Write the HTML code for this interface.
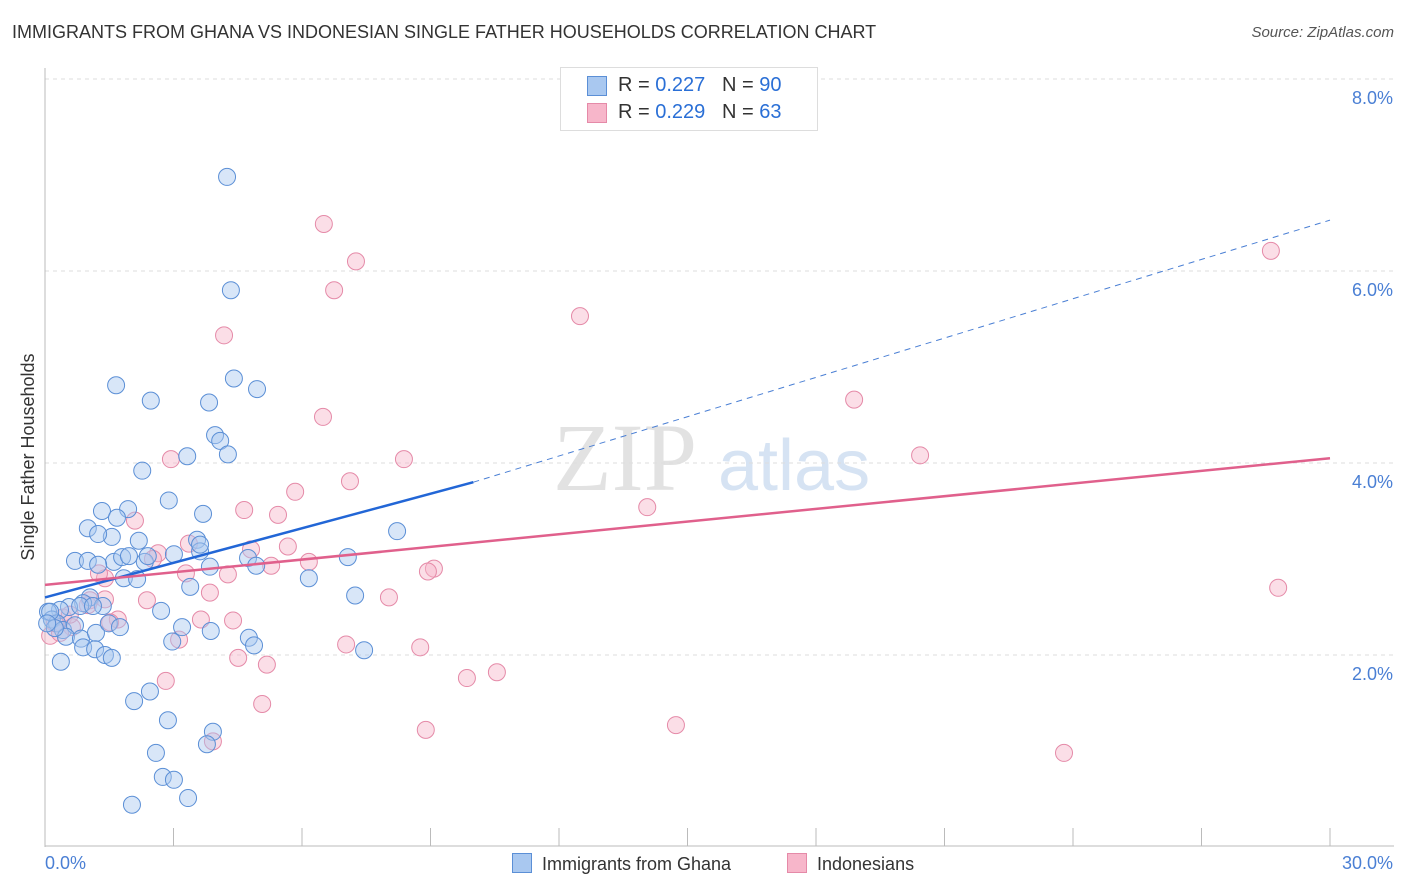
<!DOCTYPE html>
<html><head><meta charset="utf-8">
<style>
body{margin:0;background:#fff;font-family:"Liberation Sans",sans-serif;}
#wrap{position:relative;width:1406px;height:892px;overflow:hidden;}
.t{position:absolute;white-space:nowrap;}
</style></head>
<body><div id="wrap">
<div class="t" style="left:12px;top:22px;font-size:18px;color:#333;">IMMIGRANTS FROM GHANA VS INDONESIAN SINGLE FATHER HOUSEHOLDS CORRELATION CHART</div>
<div class="t" style="right:12px;top:24px;font-size:15px;color:#555;font-style:italic;">Source: ZipAtlas.com</div>
<svg id="svg" width="1406" height="892" style="position:absolute;left:0;top:0"></svg>
</div>
<script>
const yTicks=[2,4,6,8];
const yTickLabels=["2.0%","4.0%","6.0%","8.0%"];
const xTickLabels=["0.0%","30.0%"];
const blueX=[4.25,4.34,1.66,2.47,4.41,4.95,3.83,3.97,4.09,3.32,4.27,2.27,2.89,1.33,1.94,1.68,3.69,1.00,1.56,1.24,2.19,3.55,0.70,1.00,1.61,1.80,1.96,2.33,3.01,3.62,1.84,2.15,1.24,3.85,4.74,4.93,3.39,6.16,7.07,8.22,7.24,1.05,0.89,0.56,0.35,0.07,0.16,0.28,0.42,0.70,0.49,0.84,1.19,1.49,1.75,2.71,3.20,2.97,3.87,4.76,4.88,7.45,0.89,1.17,1.40,1.56,0.37,2.45,2.08,2.87,3.92,3.78,2.59,2.75,3.01,3.34,2.03,0.12,0.23,1.35,0.82,1.12,2.40,3.62,0.05];
const blueY=[6.98,5.80,4.81,4.65,4.88,4.77,4.63,4.29,4.23,4.07,4.09,3.92,3.61,3.50,3.52,3.43,3.47,3.32,3.23,3.26,3.19,3.20,2.98,2.98,2.97,3.02,3.03,2.97,3.05,3.08,2.80,2.79,2.94,2.92,3.01,2.93,2.71,2.80,3.02,3.29,2.62,2.60,2.54,2.50,2.47,2.45,2.37,2.33,2.26,2.31,2.19,2.17,2.23,2.33,2.29,2.46,2.29,2.14,2.25,2.18,2.10,2.05,2.08,2.06,2.00,1.97,1.93,1.62,1.52,1.32,1.20,1.07,0.98,0.73,0.70,0.51,0.44,2.45,2.28,2.51,2.51,2.51,3.03,3.15,2.33];
const pinkX=[6.51,7.26,6.75,12.49,4.18,28.62,18.89,6.49,20.43,2.94,8.38,7.12,5.84,14.06,4.65,5.44,2.10,3.36,4.81,5.67,2.64,2.52,6.16,5.28,4.27,3.29,1.40,1.26,3.85,9.08,8.94,8.03,2.38,1.05,1.70,1.52,1.00,3.64,4.39,28.79,0.42,0.63,0.12,0.35,7.03,8.76,3.13,4.51,5.18,10.55,9.85,2.82,5.07,14.73,8.89,3.92,23.79,1.40,0.23,0.58];
const pinkY=[6.49,6.10,5.80,5.53,5.33,6.21,4.66,4.48,4.08,4.04,4.04,3.81,3.70,3.54,3.51,3.46,3.40,3.16,3.10,3.13,3.06,3.00,2.97,2.93,2.84,2.85,2.80,2.85,2.65,2.90,2.87,2.60,2.57,2.57,2.37,2.34,2.52,2.37,2.36,2.70,2.39,2.29,2.20,2.23,2.11,2.08,2.16,1.97,1.90,1.82,1.76,1.73,1.49,1.27,1.22,1.10,0.98,2.58,2.33,2.42];
const blueTrend=[[0,2.60],[10,3.80]];
const blueTrendExt=[[10,3.80],[30,6.53]];
const pinkTrend=[[0,2.73],[30,4.05]];

const X0=45,X1=1330,Y0=847,PPY=96;
const sx=v=>X0+v*(X1-X0)/30, sy=v=>Y0-v*PPY;
const svg=document.getElementById('svg');const NS='http://www.w3.org/2000/svg';
function mk(t,a,p){const e=document.createElementNS(NS,t);for(const k in a)e.setAttribute(k,a[k]);(p||svg).appendChild(e);return e;}
// watermark
let wm=mk('text',{x:553,y:490,'font-size':96,fill:'#e2e2e2','font-family':'Liberation Serif, serif'});wm.textContent='ZIP';


let wm2=mk('text',{x:718,y:490,'font-size':72,fill:'#d6e3f3','font-family':'Liberation Sans, sans-serif'});wm2.textContent='atlas';


// grid
yTicks.forEach((v,i)=>{
 let g=mk('line',{x1:X0,x2:1394,y1:sy(v),y2:sy(v),stroke:'#ddd','stroke-dasharray':'4,4'});
 
 
 let t=mk('text',{x:1393,y:sy(v)+25,'text-anchor':'end','font-size':18,fill:'#4a7fd4'});t.textContent=yTickLabels[i];
 
 
});
let topg=mk('line',{x1:X0,x2:1394,y1:79,y2:79,stroke:'#ddd','stroke-dasharray':'4,4'});
mk('line',{x1:X0,x2:X0,y1:68,y2:847,stroke:'#bbb'});
mk('line',{x1:X0,x2:1394,y1:846,y2:846,stroke:'#bbb'});
for(let i=1;i<=10;i++){let x=X0+i*128.5;let tk=mk('line',{x1:x,x2:x,y1:828,y2:846,stroke:'#bbb'});
 
 }
let xl=mk('text',{x:45,y:869,'font-size':18,fill:'#4a7fd4'});xl.textContent=xTickLabels[0];


let xr=mk('text',{x:1393,y:869,'text-anchor':'end','font-size':18,fill:'#4a7fd4'});xr.textContent=xTickLabels[1];


let yt=mk('text',{x:34,y:457,'font-size':18,fill:'#333','text-anchor':'middle',transform:'rotate(-90 34 457)'});yt.textContent='Single Father Households';


// points
function pts(xs,ys,fill,stroke,name){xs.forEach((x,i)=>{let c=mk('circle',{cx:sx(x),cy:sy(ys[i]),r:8.5,fill:fill,'fill-opacity':0.45,stroke:stroke,'stroke-width':1});
 
 });}
pts(pinkX,pinkY,'#f7b6ca','#e58aa8','point-indonesians');
pts(blueX,blueY,'#a9c8f0','#5b8fd6','point-ghana');
function ln(p,col,w,dash,name){let l=mk('line',{x1:sx(p[0][0]),y1:sy(p[0][1]),x2:sx(p[1][0]),y2:sy(p[1][1]),stroke:col,'stroke-width':w});if(dash)l.setAttribute('stroke-dasharray',dash);
 
 }
ln(blueTrendExt,'#4a7fd4',1,'6,5','trend-ghana-extended');
ln(blueTrend,'#2266d6',2.5,null,'trend-ghana');
ln(pinkTrend,'#e0608c',2.5,null,'trend-indonesians');
</script>
<div class="t" style="left:560px;top:67px;width:256px;height:62px;border:1px solid #ddd;background:#fff;"></div>
<div class="t" style="left:587px;top:76px;width:18px;height:18px;background:#a9c8f0;border:1px solid #5b8fd6;"></div>
<div class="t" style="left:618px;top:74px;font-size:20px;color:#333;">R = <span style="color:#2a6fd6">0.227</span>&nbsp;&nbsp;&nbsp;N = <span style="color:#2a6fd6">90</span></div>
<div class="t" style="left:587px;top:103px;width:18px;height:18px;background:#f7b6ca;border:1px solid #e58aa8;"></div>
<div class="t" style="left:618px;top:101px;font-size:20px;color:#333;">R = <span style="color:#2a6fd6">0.229</span>&nbsp;&nbsp;&nbsp;N = <span style="color:#2a6fd6">63</span></div>
<div class="t" style="left:512px;top:853px;font-size:18px;color:#333;"><span style="display:inline-block;width:18px;height:18px;background:#a9c8f0;border:1px solid #5b8fd6;vertical-align:-3px;margin-right:10px;"></span>Immigrants from Ghana</div>
<div class="t" style="left:787px;top:853px;font-size:18px;color:#333;"><span style="display:inline-block;width:18px;height:18px;background:#f7b6ca;border:1px solid #e58aa8;vertical-align:-3px;margin-right:10px;"></span>Indonesians</div>
</body></html>
